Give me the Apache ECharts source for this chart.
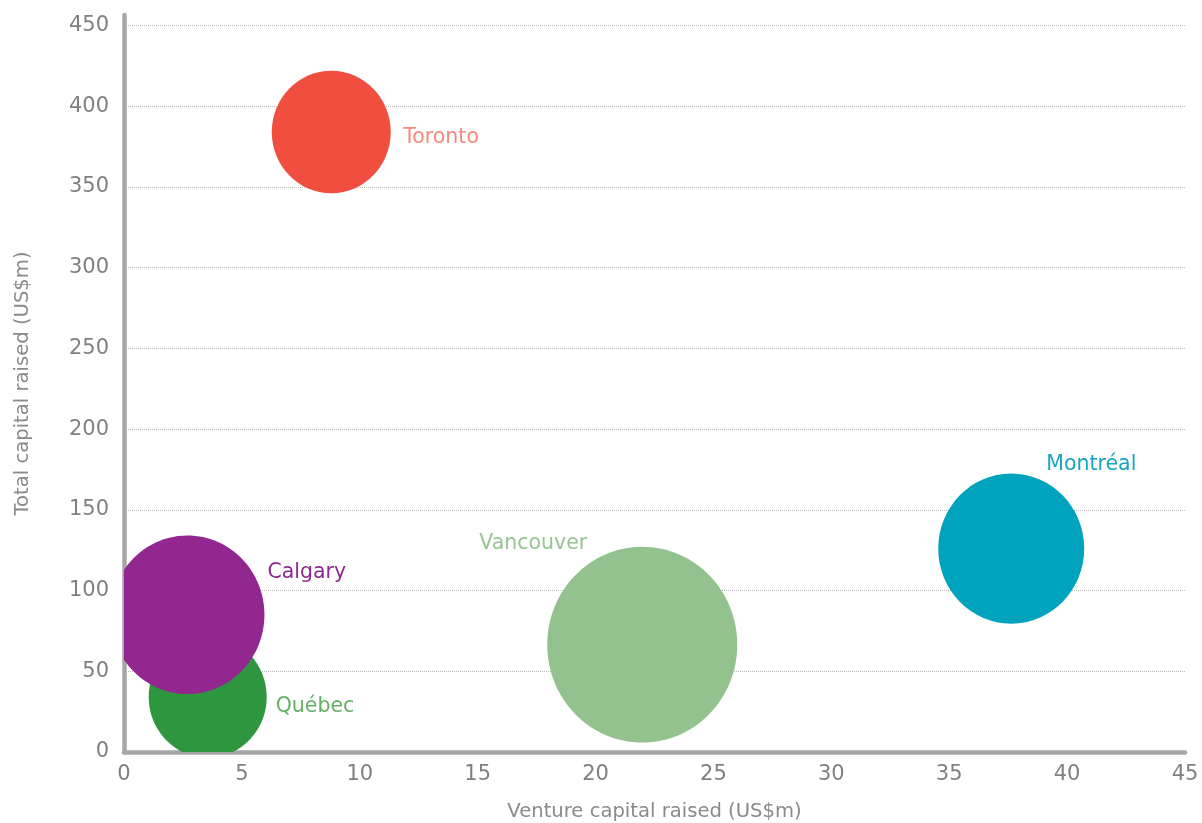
<!DOCTYPE html>
<html><head><meta charset="utf-8">
<script src="https://cdn.jsdelivr.net/npm/echarts@6/dist/echarts.min.js"></script>
<style>html,body{margin:0;padding:0;background:#fff}#c{width:1202px;height:823px}</style>
</head><body><div id="c"></div>
<script>
// ---- data ----
const cities = ['Toronto', 'Québec', 'Calgary', 'Vancouver', 'Montréal'];
const ventureCapital = [8.79, 3.55, 2.69, 21.98, 37.63];   // US$m
const totalCapital = [384, 34, 85, 66.5, 126];            // US$m
const bubbleSize = [119, 118, 154, 190, 146];             // relative bubble size
const xTickLabels = ['0', '5', '10', '15', '20', '25', '30', '35', '40', '45'];
const yTickLabels = ['0', '50', '100', '150', '200', '250', '300', '350', '400', '450'];

// ---- styles ----
const FONT = 'DejaVu Sans';
const bubbleColors = {
  'Toronto': '#F04E3E', 'Québec': '#2E963F', 'Calgary': '#91278F',
  'Vancouver': '#93C28E', 'Montréal': '#00A3BE'
};
const labelStyle = {
  'Toronto':  { dx: 72, dy: 6, align: 'left', color: '#F58A7E' },
  'Québec':   { dx: 68, dy: 10, align: 'left', color: '#66B066' },
  'Calgary':  { dx: 80, dy: -42, align: 'left', color: '#8E2A8C' },
  'Vancouver':{ dx: -55, dy: -101, align: 'right', color: '#97C492' },
  'Montréal': { dx: 35, dy: -84, align: 'left', color: '#18A5BF' }
};
const ASPECT = 1.03;

const seriesData = cities.map((c, i) => [ventureCapital[i], totalCapital[i], bubbleSize[i], c]);

const chart = echarts.init(document.getElementById('c'), null, { renderer: 'canvas' });
chart.setOption({
  backgroundColor: '#fff',
  animation: false,
  grid: { left: 124, right: 17, top: 15, bottom: 71, containLabel: false, outerBoundsMode: 'none' },
  xAxis: {
    type: 'value', min: 0, max: 45, interval: 5,
    name: 'Venture capital raised (US$m)', nameLocation: 'middle', nameGap: 50,
    nameTextStyle: { fontFamily: FONT, fontSize: 19.6, color: '#8a8a8a' },
    axisLine: { show: true, lineStyle: { color: '#a6a6a6', width: 4.5 } },
    axisTick: { show: false },
    splitLine: { show: false },
    axisLabel: {
      margin: 12, fontFamily: FONT, fontSize: 21, color: '#808080',
      formatter: v => xTickLabels[Math.round(v / 5)] ?? ''
    }
  },
  yAxis: {
    type: 'value', min: 0, max: 456.5, interval: 50,
    name: 'Total capital raised (US$m)', nameLocation: 'middle', nameGap: 91,
    nameTextStyle: { fontFamily: FONT, fontSize: 19.6, color: '#8a8a8a' },
    axisLine: { show: true, lineStyle: { color: '#a6a6a6', width: 4.5 } },
    axisTick: { show: false },
    splitLine: { show: true, showMaxLine: false, lineStyle: { color: '#bdbdbd', type: 'dotted', width: 1 } },
    axisLabel: {
      margin: 15, fontFamily: FONT, fontSize: 21, color: '#808080', showMaxLabel: false,
      formatter: v => (v % 50 === 0 ? (yTickLabels[v / 50] ?? '') : '')
    }
  },
  series: [{
    type: 'custom',
    clip: true,
    data: seriesData,
    renderItem: function (params, api) {
      const p = api.coord([api.value(0), api.value(1)]);
      const size = api.value(2);
      const name = cities[params.dataIndex];
      const ls = labelStyle[name];
      return {
        type: 'group',
        children: [
          {
            type: 'ellipse',
            shape: { cx: p[0], cy: p[1], rx: size / 2, ry: size / 2 * ASPECT },
            style: { fill: bubbleColors[name] }
          },
          {
            type: 'text',
            x: p[0] + ls.dx, y: p[1] + ls.dy,
            style: {
              text: name, fill: ls.color, fontFamily: FONT, fontSize: 20.5,
              align: ls.align, verticalAlign: 'middle'
            }
          }
        ]
      };
    }
  }]
});
</script></body></html>
